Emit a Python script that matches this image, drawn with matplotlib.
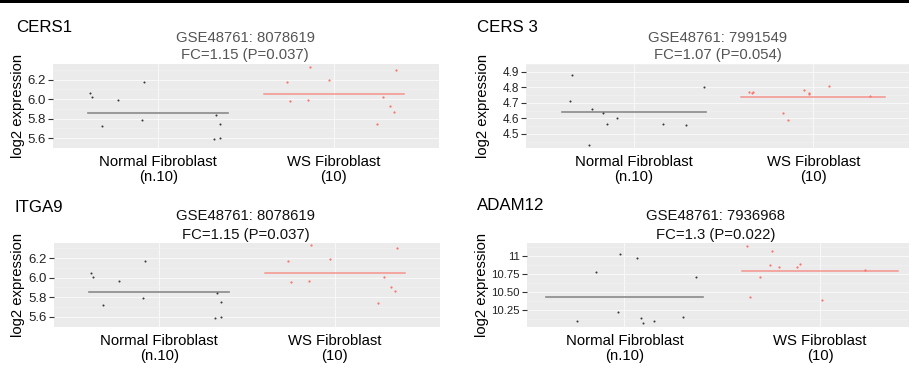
import numpy as np
import matplotlib
matplotlib.use("Agg")
import matplotlib.pyplot as plt
from matplotlib.patches import Rectangle

plt.rcParams['font.family'] = ['Liberation Sans', 'DejaVu Sans']

# ---------------- data ----------------
categories = ["Normal Fibroblast\n(n.10)", "WS Fibroblast\n(10)"]

genes = ["CERS1", "CERS 3", "ITGA9", "ADAM12"]
subtitles = [("GSE48761: 8078619", "FC=1.15 (P=0.037)"),
             ("GSE48761: 7991549", "FC=1.07 (P=0.054)"),
             ("GSE48761: 8078619", "FC=1.15 (P=0.037)"),
             ("GSE48761: 7936968", "FC=1.3 (P=0.022)")]

# jitter offsets (relative to category) and expression values
cers1_normal_jit = [-0.39, -0.38, -0.23, -0.08, -0.32, -0.09, 0.33, 0.35, 0.32, 0.35]
cers1_normal_val = [6.06, 6.026, 5.99, 6.18, 5.73, 5.79, 5.84, 5.75, 5.59, 5.60]
cers1_ws_jit = [-0.265, -0.136, -0.027, -0.251, -0.147, 0.354, 0.28, 0.322, 0.345, 0.244]
cers1_ws_val = [6.174, 6.327, 6.2, 5.978, 5.988, 6.298, 6.026, 5.927, 5.864, 5.749]

cers3_normal_jit = [-0.346, -0.357, -0.233, -0.172, -0.093, -0.15, -0.25, 0.163, 0.289, 0.394]
cers3_normal_val = [4.877, 4.713, 4.663, 4.634, 4.603, 4.565, 4.432, 4.562, 4.557, 4.8]
cers3_ws_jit = [-0.359, -0.343, -0.333, -0.052, -0.024, -0.022, 0.085, 0.317, -0.167, -0.141]
cers3_ws_val = [4.767, 4.765, 4.773, 4.784, 4.765, 4.755, 4.811, 4.742, 4.634, 4.591]

itga9_normal_jit = [-0.39, -0.38, -0.23, -0.08, -0.32, -0.09, 0.33, 0.35, 0.32, 0.35]
itga9_normal_val = [6.05, 6.01, 5.97, 6.17, 5.72, 5.79, 5.84, 5.75, 5.59, 5.60]
itga9_ws_jit = [-0.265, -0.136, -0.027, -0.251, -0.147, 0.354, 0.28, 0.322, 0.345, 0.244]
itga9_ws_val = [6.17, 6.33, 6.19, 5.96, 5.97, 6.30, 6.01, 5.91, 5.86, 5.74]

adam12_normal_jit = [-0.241, -0.144, -0.025, -0.033, 0.062, 0.086, 0.095, 0.151, 0.298, 0.364]
adam12_normal_val = [10.092, 10.777, 11.032, 10.218, 10.98, 10.142, 10.067, 10.1, 10.152, 10.707]
adam12_ws_jit = [-0.373, -0.247, -0.256, -0.208, -0.119, -0.102, -0.307, -0.358, 0.009, 0.232]
adam12_ws_val = [11.144, 11.07, 10.874, 10.846, 10.85, 10.892, 10.711, 10.432, 10.39, 10.804]

cers1_yticks = [5.6, 5.8, 6.0, 6.2]
cers1_ylabels = ["5.6", "5.8", "6.0", "6.2"]
cers3_yticks = [4.5, 4.6, 4.7, 4.8, 4.9]
cers3_ylabels = ["4.5", "4.6", "4.7", "4.8", "4.9"]
adam12_yticks = [10.25, 10.5, 10.75, 11.0]
adam12_ylabels = ["10.25", "10.50", "10.75", "11"]

# ---------------- layout ----------------
W, H = 909, 365
fig = plt.figure(figsize=(W / 100, H / 100), dpi=100)
fig.patch.set_facecolor("white")

def fx(px):
    return px / W

def fy(py):
    return 1 - py / H

# top black rule
fig.add_artist(Rectangle((0, fy(2.7)), 1, 2.7 / H, transform=fig.transFigure,
                         color="black", lw=0, zorder=10))

panels = [
    dict(box=(53, 64, 439, 148), xlim=(0.4, 2.6), ylim=(5.56, 6.36),
         nj=cers1_normal_jit, nv=cers1_normal_val, wj=cers1_ws_jit, wv=cers1_ws_val,
         yt=cers1_yticks, yl=cers1_ylabels, tfs=9.5,
         title_xy=(15.7, 32), sub_x=245, sub_y=(42, 59), sub_c="#555555", ylab_x=18),
    dict(box=(526, 64, 921, 148), xlim=(0.4, 2.6), ylim=(4.41, 4.904),
         nj=cers3_normal_jit, nv=cers3_normal_val, wj=cers3_ws_jit, wv=cers3_ws_val,
         yt=cers3_yticks, yl=cers3_ylabels, tfs=8.5,
         title_xy=(476.7, 32), sub_x=718, sub_y=(42, 59), sub_c="#555555", ylab_x=483),
    dict(box=(54, 242.7, 440, 326.7), xlim=(0.4, 2.6), ylim=(5.56, 6.357),
         nj=itga9_normal_jit, nv=itga9_normal_val, wj=itga9_ws_jit, wv=itga9_ws_val,
         yt=cers1_yticks, yl=cers1_ylabels, tfs=9.5,
         title_xy=(15, 212), sub_x=246, sub_y=(220, 238.5), sub_c="#111111", ylab_x=18),
    dict(box=(526.7, 242.7, 917.7, 326.7), xlim=(0.5, 2.5), ylim=(10.017, 11.19),
         nj=adam12_normal_jit, nv=adam12_normal_val, wj=adam12_ws_jit, wv=adam12_ws_val,
         yt=adam12_yticks, yl=adam12_ylabels, tfs=8.2,
         title_xy=(477, 209.5), sub_x=716, sub_y=(220.5, 238.5), sub_c="#111111", ylab_x=482),
]

normal_pt = "#3a3a3a"
ws_col = "#F8766D"

for gene, (s1, s2), p in zip(genes, subtitles, panels):
    l, t, r, b = p["box"]
    ax = fig.add_axes([fx(l), fy(b), (r - l) / W, (b - t) / H])
    ax.set_facecolor("#EBEBEB")
    for sp in ax.spines.values():
        sp.set_visible(False)
    ax.set_xlim(*p["xlim"])
    ax.set_ylim(*p["ylim"])

    # grid
    yt = p["yt"]
    step = yt[1] - yt[0]
    minors = [v + step / 2 for v in [yt[0] - step] + yt]
    ax.set_yticks(minors, minor=True)
    ax.set_yticks(yt)
    ax.set_yticklabels(p["yl"])
    ax.set_xticks([1, 2])
    ax.set_xticklabels(categories, fontsize=10.7, linespacing=1.1, color="black")
    ax.grid(True, which="major", color="#F8F8F8", lw=0.8)
    ax.grid(True, which="minor", axis="y", color="#F3F3F3", lw=0.4)
    ax.set_axisbelow(True)
    ax.tick_params(axis="y", which="major", length=3.5, width=0.8, color="#333333",
                   labelsize=p["tfs"], labelcolor="#222222", pad=1.5)
    ax.tick_params(axis="y", which="minor", length=0)
    ax.tick_params(axis="x", length=0, pad=5)

    # points
    nx = 1 + np.array(p["nj"])
    wx = 2 + np.array(p["wj"])
    ax.scatter(nx, p["nv"], s=2.2, color=normal_pt, lw=0, zorder=3)
    ax.scatter(wx, p["wv"], s=2.6, color=ws_col, lw=0, zorder=3)

    # mean lines
    nm = np.mean(p["nv"])
    wm = np.mean(p["wv"])
    ax.plot([0.6, 1.4], [nm, nm], color="#8a8a8a", lw=1.2, zorder=2)
    ax.plot([1.6, 2.4], [wm, wm], color=ws_col, lw=1.1, alpha=0.75, zorder=2)

    # texts
    tx, ty = p["title_xy"]
    fig.text(fx(tx), fy(ty), gene, fontsize=12.2, va="baseline", ha="left", color="black")
    fig.text(fx(p["sub_x"]), fy(p["sub_y"][0]), s1, fontsize=10.7, ha="center",
             va="baseline", color=p["sub_c"])
    fig.text(fx(p["sub_x"]), fy(p["sub_y"][1]), s2, fontsize=10.7, ha="center",
             va="baseline", color=p["sub_c"])
    fig.text(fx(p["ylab_x"]), fy((t + b) / 2), "log2 expression", fontsize=10.7,
             rotation=90, ha="center", va="center", color="black")

fig.savefig("out.png", dpi=100, facecolor="white")
